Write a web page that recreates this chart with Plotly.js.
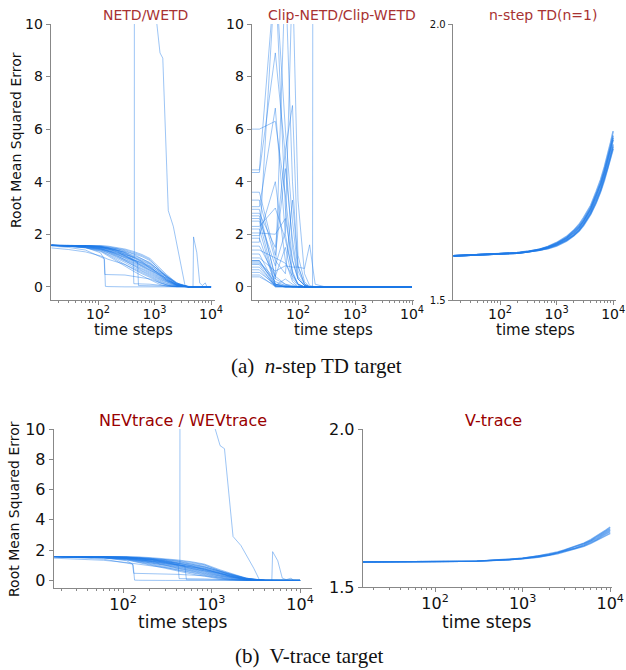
<!DOCTYPE html>
<html><head><meta charset="utf-8">
<script src="https://cdn.plot.ly/plotly-3.0.1.min.js"></script>
<style>html,body{margin:0;padding:0;background:#fff}#chart{width:626px;height:670px}</style>
</head><body><div id="chart"></div>
<script>
// ---------- tick labels ----------
const X_TICKS = [100, 1000, 10000];
const X_TICK_TEXT = ['10<sup>2</sup>', '10<sup>3</sup>', '10<sup>4</sup>'];
const Y_TICKS_ERR = [0, 2, 4, 6, 8, 10];
const Y_TICKS_GROW = [1.5, 2.0];
const Y_TICK_TEXT_GROW = ['1.5', '2.0'];

// ---------- titles ----------
const PANEL_TITLES = ['NETD/WETD', 'Clip-NETD/Clip-WETD', 'n-step TD(n=1)', 'NEVtrace / WEVtrace', 'V-trace'];
const CAPTIONS = ['(a)&nbsp; <i>n</i>-step TD target', '(b)&nbsp; V-trace target'];

// ---------- emphatic TD runs (panels NETD/WETD and NEVtrace/WEVtrace) ----------
const X_BAND = [15, 30, 60, 110, 150, 214, 300, 420, 600, 830, 1250, 1650, 2470, 4000, 10000];
const band01 = [1.58,1.58,1.58,1.57,1.55,1.50,1.44,1.35,1.23,1.08,0.70,0.46,0.15,0.01,0];
const band02 = [1.58,1.58,1.57,1.55,1.51,1.45,1.38,1.27,1.15,1.00,0.65,0.42,0.13,0.01,0];
const band03 = [1.58,1.57,1.56,1.53,1.48,1.40,1.31,1.20,1.07,0.93,0.58,0.38,0.12,0.01,0];
const band04 = [1.58,1.57,1.55,1.50,1.44,1.34,1.25,1.12,0.99,0.85,0.52,0.34,0.10,0,0];
const band05 = [1.58,1.58,1.56,1.52,1.45,1.33,1.20,1.05,0.90,0.76,0.46,0.30,0.08,0,0];
const band06 = [1.58,1.57,1.54,1.47,1.39,1.27,1.15,0.99,0.85,0.72,0.42,0.26,0.07,0,0];
const band07 = [1.58,1.56,1.53,1.46,1.36,1.23,1.11,0.97,0.82,0.68,0.40,0.25,0.07,0,0];
const band08 = [1.58,1.56,1.52,1.43,1.33,1.18,1.05,0.90,0.75,0.60,0.34,0.21,0.05,0,0];
const band09 = [1.58,1.56,1.51,1.41,1.29,1.13,0.99,0.82,0.67,0.52,0.28,0.17,0.04,0,0];
const band10 = [1.58,1.55,1.50,1.39,1.25,1.08,0.93,0.75,0.59,0.44,0.21,0.12,0.02,0,0];
const band11 = [1.58,1.55,1.49,1.37,1.22,1.02,0.86,0.67,0.50,0.36,0.15,0.07,0.01,0,0];
const band12 = [1.58,1.55,1.48,1.35,1.18,0.97,0.80,0.60,0.42,0.28,0.09,0.03,0,0,0];
const band13 = [1.58,1.58,1.57,1.54,1.49,1.40,1.28,1.10,0.94,0.80,0.55,0.36,0.11,0,0];
const band14 = [1.58,1.57,1.55,1.49,1.40,1.24,1.08,0.93,0.80,0.64,0.37,0.22,0.06,0,0];
const band15 = [1.48,1.42,1.33,1.18,1.05,0.95,0.85,0.70,0.55,0.40,0.18,0.08,0.01,0,0];
const band16 = [1.58,1.58,1.57,1.56,1.53,1.47,1.41,1.31,1.19,1.04,0.62,0.40,0.12,0,0];
const band17 = [1.58,1.56,1.52,1.44,1.35,1.20,1.02,0.86,0.70,0.56,0.31,0.19,0.05,0,0];
const band18 = [1.58,1.58,1.56,1.51,1.47,1.38,1.22,1.15,0.96,0.70,0.49,0.28,0.09,0,0];
const band19 = [1.58,1.57,1.54,1.48,1.42,1.30,1.21,1.02,0.92,0.78,0.44,0.33,0.06,0,0];
const band20 = [1.58,1.56,1.53,1.45,1.37,1.26,1.13,1.01,0.78,0.63,0.45,0.24,0.10,0,0];
const band21 = [1.58,1.57,1.55,1.51,1.43,1.35,1.17,1.03,0.88,0.74,0.50,0.29,0.08,0,0];
const band22 = [1.58,1.58,1.56,1.53,1.47,1.42,1.33,1.16,1.02,0.88,0.60,0.35,0.14,0,0];
const band23 = [1.58,1.55,1.50,1.42,1.30,1.16,1.00,0.80,0.62,0.48,0.25,0.14,0.03,0,0];

const earlyDropX = [15, 30, 60, 110, 130, 135, 150, 300, 10000];
const earlyDropY = [1.58, 1.56, 1.50, 1.30, 1.05, 0.02, 0.01, 0, 0];
const stepDropX = [15, 30, 60, 110, 128, 132, 300, 420, 600, 830, 1250, 2000, 10000];
const stepDropY = [1.55, 1.50, 1.40, 1.15, 1.08, 0.47, 0.45, 0.40, 0.35, 0.30, 0.15, 0.02, 0];
const midDropX = [15, 60, 110, 214, 300, 420, 430, 830, 2000, 10000];
const midDropY = [1.58, 1.55, 1.45, 1.30, 1.18, 1.00, 0.12, 0.10, 0.02, 0];
const lateDropX = [15, 60, 110, 214, 300, 500, 520, 10000];
const lateDropY = [1.58, 1.57, 1.50, 1.38, 1.25, 0.95, 0.05, 0];
const divergeX = [15, 60, 110, 214, 300, 439, 441, 1000, 1100, 1250, 1400, 1750, 2150, 3000, 3500, 10000];
const divergeY = [1.58, 1.57, 1.52, 1.42, 1.30, 1.10, 40, 14, 10, 8.9, 8.7, 2.9, 2.3, 0.8, 0, 0];
const spikeX = [15, 60, 110, 214, 420, 830, 1650, 3000, 4800, 4900, 5600, 6300, 7000, 7900, 8500, 10000];
const spikeY = [1.58, 1.57, 1.53, 1.45, 1.25, 0.90, 0.40, 0.05, 0, 1.9, 1.3, 0.15, 0.05, 0.15, 0, 0];

// ---------- clipped emphatic TD runs ----------
const X_CLIP = [15, 21, 40, 60, 80, 100, 130, 160, 200, 300, 10000];
const clip01 = [6.0,6.0,6.3,3.5,1.0,0.3,0.05,0,0,0,0];
const clip02 = [4.45,4.45,12,6.0,2.5,0.6,0.1,0,0,0,0];
const clip03 = [4.35,4.35,8.9,5.0,1.5,0.3,0.05,0,0,0,0];
const clip04 = [3.6,3.6,1.2,4.5,1.8,0.4,0.05,0,0,0,0];
const clip05 = [3.05,3.05,6.8,2.0,0.5,0.1,0,0,0,0,0];
const clip06 = [2.95,2.95,0.3,12,4.0,0.8,0.1,0,0,0,0];
const clip07 = [2.8,2.8,1.5,5.2,6.9,1.2,0.2,0,0,0,0];
const clip08 = [2.6,2.6,0.8,2.1,12,3.3,0.5,0.05,0,0,0];
const clip09 = [2.5,2.5,0.1,0.02,0,0,0,0,0,0,0];
const clip10 = [2.3,2.3,3.0,1.8,0.6,0.1,0,0,0,0,0];
const clip11 = [2.2,2.2,0.05,0,0,0,0,0,0,0,0];
const clip12 = [2.05,2.05,2.0,2.6,1.0,0.3,0.05,0,0,0,0];
const clip13 = [1.85,1.85,0.1,0,0,0,0,0,0,0,0];
const clip14 = [1.7,1.7,12,3.0,0.5,0.1,0,0,0,0,0];
const clip15 = [1.55,1.55,0.4,0.1,0,0,0,0,0,0,0];
const clip16 = [1.4,1.4,1.1,0.9,0.4,0.1,0,0,0,0,0];
const clip17 = [1.25,1.25,0.05,0,0,0,0,0,0,0,0];
const clip18 = [1.1,1.1,0.6,0.8,0.75,0.75,0.7,1.6,0.1,0,0];
const clip19 = [1.0,1.0,0.02,0,0,0,0,0,0,0,0];
const clip20 = [0.95,0.95,0.3,0.1,0.05,0,0,0,0,0,0];
const clip21 = [0.85,0.85,0,0,0,0,0,0,0,0,0];
const clip22 = [0.75,0.75,0.05,0.3,0.1,0,0,0,0,0,0];
const clip23 = [0.65,0.65,0.02,0,0,0,0,0,0,0,0];
const clip24 = [0.55,0.55,0.1,0.05,0,0,0,0,0,0,0];
const clip25 = [0.45,0.45,0,0,0,0,0,0,0,0,0];
const clip26 = [0.38,0.38,0.05,0,0,0,0,0,0,0,0];
const clip27 = [3.3,3.3,1.0,0.5,3.3,0.8,0.1,0,0,0,0];
const clip28 = [1.95,1.95,4.0,1.0,0.2,0,0,0,0,0,0];
const clip29 = [2.7,2.7,0.4,1.5,0.3,0.05,0,0,0,0,0];
const clip30 = [0.9,0.9,0.2,0.05,0,0,0,0,0,0,0];
const clipJumpX = [15, 21, 40, 60, 100, 180, 186, 10000];
const clipJumpY = [1.0, 1.0, 0.1, 0.02, 0, 0, 40, 40];

// ---------- n-step TD(n=1) runs ----------
const X_GROW = [15,30,60,100,200,300,500,700,1000,1500,2000,2500,3000,4000,5000,6000,7000,8000,9000,10000];
const td1 = [1.580,1.581,1.582,1.583,1.585,1.587,1.590,1.593,1.598,1.607,1.616,1.625,1.635,1.655,1.676,1.696,1.717,1.737,1.757,1.774];
const td2 = [1.580,1.581,1.582,1.583,1.585,1.587,1.590,1.594,1.599,1.608,1.617,1.626,1.637,1.657,1.678,1.699,1.720,1.740,1.760,1.778];
const td3 = [1.580,1.581,1.582,1.583,1.585,1.587,1.590,1.594,1.600,1.609,1.618,1.628,1.638,1.659,1.681,1.701,1.723,1.743,1.764,1.782];
const td4 = [1.580,1.581,1.582,1.583,1.585,1.587,1.591,1.595,1.601,1.611,1.621,1.631,1.642,1.663,1.686,1.707,1.729,1.750,1.771,1.790];
const td5 = [1.580,1.581,1.582,1.583,1.585,1.587,1.591,1.596,1.602,1.612,1.622,1.632,1.643,1.665,1.688,1.710,1.732,1.753,1.775,1.794];
const td6 = [1.580,1.581,1.582,1.583,1.585,1.588,1.592,1.596,1.603,1.613,1.624,1.634,1.645,1.667,1.691,1.712,1.735,1.756,1.778,1.798];
const td7 = [1.580,1.581,1.582,1.584,1.586,1.588,1.592,1.597,1.604,1.615,1.626,1.637,1.649,1.671,1.696,1.718,1.741,1.763,1.785,1.806];

// ---------- V-trace runs ----------
const vt1 = [1.579,1.579,1.580,1.580,1.581,1.582,1.584,1.586,1.589,1.594,1.600,1.605,1.611,1.620,1.629,1.638,1.647,1.656,1.663,1.670];
const vt2 = [1.579,1.579,1.580,1.580,1.581,1.582,1.584,1.586,1.590,1.595,1.601,1.607,1.612,1.622,1.631,1.641,1.650,1.660,1.667,1.675];
const vt3 = [1.579,1.579,1.580,1.580,1.581,1.582,1.584,1.586,1.590,1.596,1.602,1.608,1.614,1.624,1.634,1.644,1.654,1.664,1.672,1.680];
const vt4 = [1.579,1.579,1.580,1.580,1.581,1.582,1.584,1.587,1.591,1.597,1.603,1.609,1.616,1.626,1.637,1.647,1.658,1.668,1.677,1.685];
const vt5 = [1.579,1.579,1.580,1.580,1.581,1.582,1.585,1.587,1.591,1.598,1.604,1.611,1.617,1.628,1.639,1.650,1.661,1.672,1.681,1.690];

// ---------- assemble ----------
const W = 626, H = 670;
const xp = px => px / W;
const yp = py => 1 - py / H;

const emphaticRuns = [band01,band02,band03,band04,band05,band06,band07,band08,band09,band10,band11,band12,band13,band14,band15,
  band16,band17,band18,band19,band20,band21,band22,band23]
  .map(y => ({x: X_BAND, y}))
  .concat([
    {x: earlyDropX, y: earlyDropY}, {x: stepDropX, y: stepDropY}, {x: midDropX, y: midDropY},
    {x: lateDropX, y: lateDropY}, {x: divergeX, y: divergeY}, {x: spikeX, y: spikeY}
  ]);
const clipRuns = [clip01,clip02,clip03,clip04,clip05,clip06,clip07,clip08,clip09,clip10,clip11,clip12,clip13,clip14,clip15,
  clip16,clip17,clip18,clip19,clip20,clip21,clip22,clip23,clip24,clip25,clip26,clip27,clip28,clip29,clip30]
  .map(y => ({x: X_CLIP, y})).concat([{x: clipJumpX, y: clipJumpY}]);
const tdRuns = [td1,td2,td3,td4,td5,td6,td7].map(y => ({x: X_GROW, y}));
const vtRuns = [vt1,vt2,vt3,vt4,vt5].map(y => ({x: X_GROW, y}));

const traces = [];
function addRuns(runs, n, color, width) {
  const xa = 'x' + (n === 1 ? '' : n), ya = 'y' + (n === 1 ? '' : n);
  runs.forEach(r => traces.push({type: 'scatter', mode: 'lines', x: r.x, y: r.y, xaxis: xa, yaxis: ya,
    line: {color, width}, hoverinfo: 'skip', showlegend: false}));
}
const THIN = 'rgba(30,122,232,0.55)';
const THICK = 'rgba(30,122,232,0.6)';
addRuns(emphaticRuns, 1, THIN, 0.8);
addRuns(clipRuns, 2, THIN, 0.8);
addRuns(tdRuns, 3, THICK, 1.6);
addRuns(emphaticRuns, 4, THIN, 0.8);
addRuns(vtRuns, 5, THICK, 1.4);

const minorVals = [];
[10, 100, 1000].forEach(d => { for (let k = 2; k <= 9; k++) minorVals.push(k * d); });

const AX = '#888';
function xAxis(d0, d1, range, anchor, fs) {
  return {type: 'log', domain: [xp(d0), xp(d1)], range, anchor, showline: true, linecolor: AX, linewidth: 1.3,
    ticks: 'outside', ticklen: 4, tickwidth: 1, tickcolor: AX, tickmode: 'array', tickvals: X_TICKS, ticktext: X_TICK_TEXT,
    ticklabelstandoff: -3,
    tickfont: {family: 'DejaVu Sans', size: fs, color: '#111'}, showgrid: false, zeroline: false,
    minor: {tickmode: 'array', tickvals: minorVals, ticks: 'outside', ticklen: 2, tickcolor: AX, showgrid: false}};
}
function yAxis(top, bottom, range, anchor, vals, texts, fs) {
  const a = {domain: [yp(bottom), yp(top)], range, anchor, showline: true, linecolor: AX, linewidth: 1.3,
    ticks: 'outside', ticklen: 4, tickwidth: 1, tickcolor: AX, tickmode: 'array', tickvals: vals,
    tickfont: {family: 'DejaVu Sans', size: fs, color: '#111'}, showgrid: false, zeroline: false};
  if (texts) a.ticktext = texts;
  return a;
}

const TOP_RED = '#a83232', BOT_RED = '#990000';
function ann(text, px, py, size, color, extra) {
  return Object.assign({text, x: xp(px), y: yp(py), xref: 'paper', yref: 'paper', showarrow: false,
    xanchor: 'center', yanchor: 'middle', font: {family: 'DejaVu Sans', size, color}}, extra || {});
}
const SERIF = {family: 'Liberation Serif', size: 21, color: '#111'};

const layout = {
  width: W, height: H, margin: {l: 0, r: 0, t: 0, b: 0}, paper_bgcolor: '#fff', plot_bgcolor: '#fff', showlegend: false,
  xaxis: xAxis(51, 215, [1.168, 4.07], 'y', 14),
  yaxis: yAxis(24, 300, [-0.5, 10], 'x', Y_TICKS_ERR, null, 14),
  xaxis2: xAxis(252, 414, [1.193, 4.035], 'y2', 14),
  yaxis2: yAxis(24, 300, [-0.5, 10], 'x2', Y_TICKS_ERR, null, 14),
  xaxis3: xAxis(453, 616, [1.168, 4.05], 'y3', 14),
  yaxis3: yAxis(24, 300, [1.5, 2.0], 'x3', Y_TICKS_GROW, Y_TICK_TEXT_GROW, 10),
  xaxis4: xAxis(54, 312, [1.22, 4.135], 'y4', 16),
  yaxis4: yAxis(429, 588, [-0.5, 10], 'x4', Y_TICKS_ERR, null, 16),
  xaxis5: xAxis(363, 612, [1.177, 4.02], 'y5', 16),
  yaxis5: yAxis(429, 587, [1.5, 2.0], 'x5', Y_TICKS_GROW, Y_TICK_TEXT_GROW, 16),
  annotations: [
    ann(PANEL_TITLES[0], 145, 15, 14, TOP_RED),
    ann(PANEL_TITLES[1], 342, 15, 14, TOP_RED),
    ann(PANEL_TITLES[2], 543, 15, 14, TOP_RED),
    ann(PANEL_TITLES[3], 183, 420, 16, BOT_RED),
    ann(PANEL_TITLES[4], 493, 420, 16, BOT_RED),
    ann('Root Mean Squared Error', 16, 140, 14, '#111', {textangle: -90}),
    ann('Root Mean Squared Error', 14, 509, 14, '#111', {textangle: -90}),
    ann('time steps', 133, 330, 15, '#111'),
    ann('time steps', 333, 330, 15, '#111'),
    ann('time steps', 535, 330, 15, '#111'),
    ann('time steps', 183, 622, 17, '#111'),
    ann('time steps', 487, 622, 17, '#111'),
    ann(CAPTIONS[0], 316, 366, 21, '#111', {font: SERIF}),
    ann(CAPTIONS[1], 309, 656, 21, '#111', {font: SERIF})
  ]
};

Plotly.newPlot('chart', traces, layout, {staticPlot: true, displayModeBar: false});
</script></body></html>
